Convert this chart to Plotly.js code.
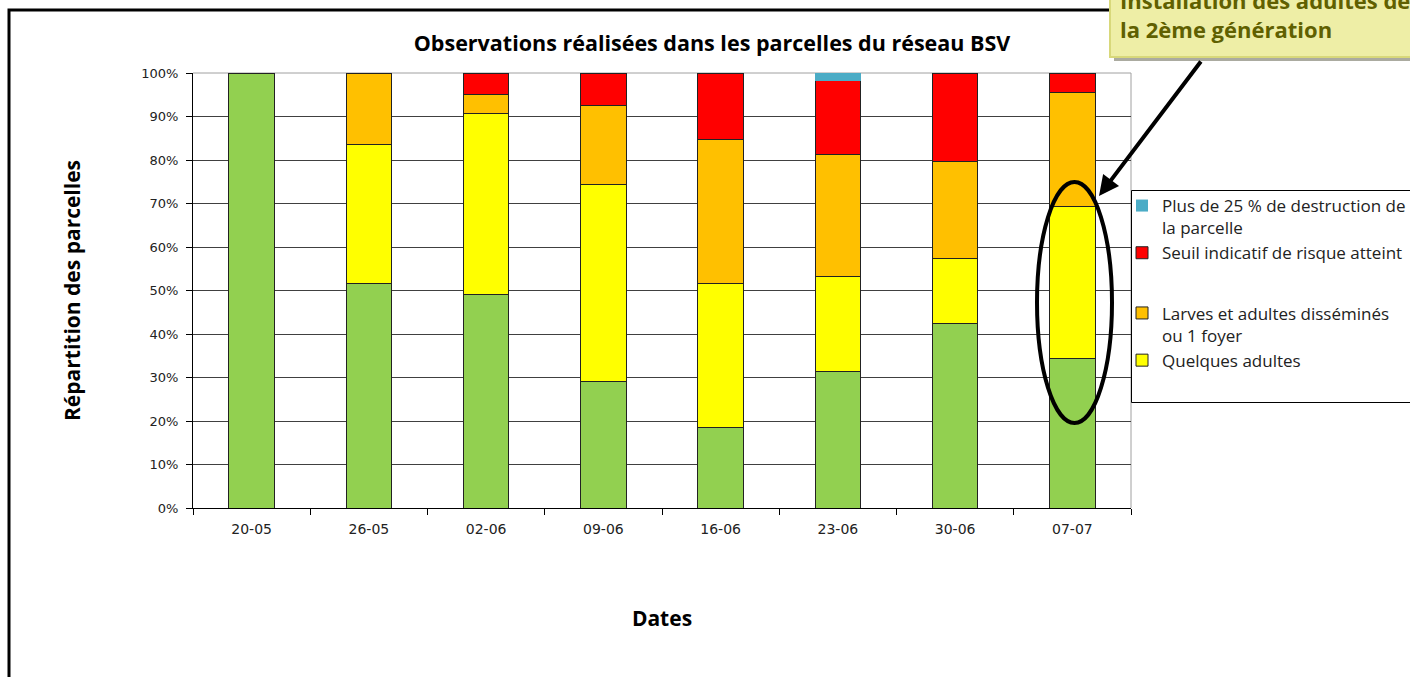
<!DOCTYPE html>
<html>
<head>
<meta charset="utf-8">
<script src="https://cdn.plot.ly/plotly-3.0.1.min.js"></script>
<style>html,body{margin:0;padding:0;background:#fff;}#chart{width:1410px;height:677px;}</style>
</head>
<body>
<div id="chart"></div>
<script>
const dates = ["20-05", "26-05", "02-06", "09-06", "16-06", "23-06", "30-06", "07-07"];
const absence = [100, 51.5, 49.0, 29.0, 18.4, 31.4, 42.3, 34.4];
const quelquesAdultes = [0, 32.0, 41.6, 45.4, 33.2, 21.8, 15.0, 34.8];
const larvesDissemines = [0, 16.5, 4.5, 18.1, 33.2, 28.0, 22.4, 26.4];
const seuilAtteint = [0, 0, 4.9, 7.5, 15.2, 17.0, 20.3, 4.4];
const plusDe25 = [0, 0, 0, 0, 0, 1.8, 0, 0];

const seriesNames = [
  "Absence",
  "Quelques adultes",
  "Larves et adultes disséminés<br>ou 1 foyer",
  "Seuil indicatif de risque atteint<br> ",
  "Plus de 25 % de destruction de<br>la parcelle"
];
const seriesColors = ["#92D050", "#FFFF00", "#FFC000", "#FF0000", "#4BACC6"];
const seriesValues = [absence, quelquesAdultes, larvesDissemines, seuilAtteint, plusDe25];
const seriesGroups = ["g0", "gLow", "gLow", "gHigh", "gHigh"];

// plot area in pixels
const L = 193, R = 1131, T = 73, B = 508;
const px = v => (v - L) / (R - L);
const py = v => (B - v) / (B - T);

const traces = seriesValues.map((vals, i) => ({
  type: "bar",
  x: dates,
  y: vals,
  name: seriesNames[i],
  legendgroup: seriesGroups[i],
  legendrank: 10 - i,
  showlegend: i !== 0,
  marker: {color: seriesColors[i], line: {color: "#222", width: i === 4 ? 0 : 1}},
  hoverinfo: "x+y+name"
}));

const layout = {
  width: 1410, height: 677,
  margin: {l: L, r: 1410 - R, t: T, b: 677 - B, autoexpand: false},
  paper_bgcolor: "#fff", plot_bgcolor: "#fff",
  barmode: "stack",
  bargap: 0.61,
  showlegend: true,
  title: {
    text: "Observations réalisées dans les parcelles du réseau BSV",
    font: {family: "Open Sans", size: 21.5, color: "#000", weight: 700},
    xref: "container", x: 712 / 1410, xanchor: "center",
    yref: "container", y: 1 - 43 / 677, yanchor: "middle"
  },
  xaxis: {
    type: "category",
    tickson: "boundaries",
    ticks: "outside", ticklen: 6, tickcolor: "#000", tickwidth: 1,
    showline: true, linecolor: "#000", linewidth: 1,
    showgrid: false,
    tickfont: {family: "DejaVu Sans", size: 14, color: "#222"},
    ticklabelstandoff: 8,
    title: {text: "Dates", font: {family: "Open Sans", size: 21, color: "#000", weight: 700}, standoff: 75},
    automargin: false
  },
  yaxis: {
    range: [0, 100],
    dtick: 10,
    ticksuffix: "%",
    ticks: "outside", ticklen: 6, tickcolor: "#000", tickwidth: 1,
    showline: true, linecolor: "#000", linewidth: 1,
    showgrid: true, gridcolor: "#404040", gridwidth: 1,
    zeroline: false,
    tickfont: {family: "DejaVu Sans", size: 13, color: "#222"},
    ticklabelstandoff: 5,
    title: {text: "Répartition des parcelles", font: {family: "Open Sans", size: 21, color: "#000", weight: 700}, standoff: 54},
    automargin: false
  },
  legend: {
    x: px(1122), xanchor: "left", xref: "paper",
    y: py(188), yanchor: "top", yref: "paper",
    traceorder: "grouped",
    tracegroupgap: 13,
    valign: "top",
    bgcolor: "rgba(0,0,0,0)",
    borderwidth: 0,
    font: {family: "Open Sans", size: 17, color: "#222"},
    itemwidth: 30
  },
  shapes: [
    // plot area border (top & right)
    {type: "line", xref: "paper", yref: "paper", x0: 0, x1: 1, y0: 1, y1: 1, line: {color: "#a0a0a0", width: 1}, layer: "below"},
    {type: "line", xref: "paper", yref: "paper", x0: 1, x1: 1, y0: 0, y1: 1, line: {color: "#a0a0a0", width: 1}, layer: "below"},
    // outer frame
    {type: "rect", xref: "paper", yref: "paper", x0: px(9), x1: px(1425), y0: py(10), y1: py(700), line: {color: "#000", width: 3}, fillcolor: "rgba(0,0,0,0)", layer: "above"},
    // legend box
    {type: "rect", xref: "paper", yref: "paper", x0: px(1131.5), x1: px(1425), y0: py(190.5), y1: py(402.5), line: {color: "#000", width: 1}, fillcolor: "#fff", layer: "above"},
    // ellipse
    {type: "circle", xref: "paper", yref: "paper", x0: px(1037), x1: px(1112), y0: py(423), y1: py(182), line: {color: "#000", width: 4}, fillcolor: "rgba(0,0,0,0)", layer: "above"},
    // callout shadow
    {type: "rect", xref: "paper", yref: "paper", x0: px(1114), x1: px(1430), y0: py(-30), y1: py(61), line: {width: 0}, fillcolor: "#ababa0", layer: "above"},
    // callout box
    {type: "rect", xref: "paper", yref: "paper", x0: px(1110), x1: px(1426), y0: py(-34), y1: py(57), line: {color: "#d8d87a", width: 2}, fillcolor: "#eeeea6", layer: "above"}
  ],
  annotations: [
    {xref: "paper", yref: "paper", x: px(1118), y: py(14.5), xanchor: "left", yanchor: "middle", align: "left",
     text: "Installation des adultes de<br>la 2ème génération", showarrow: false,
     font: {family: "Open Sans", size: 22, color: "#606000", weight: 700}},
    {xref: "paper", yref: "paper", x: px(1099), y: py(196), text: "", showarrow: true,
     ax: 1202 - 1099, ay: 60 - 196, axref: "pixel", ayref: "pixel",
     arrowhead: 2, arrowsize: 1, arrowwidth: 4, arrowcolor: "#000", standoff: 0}
  ]
};

Plotly.newPlot("chart", traces, layout, {displayModeBar: false, staticPlot: true});
</script>
</body>
</html>
